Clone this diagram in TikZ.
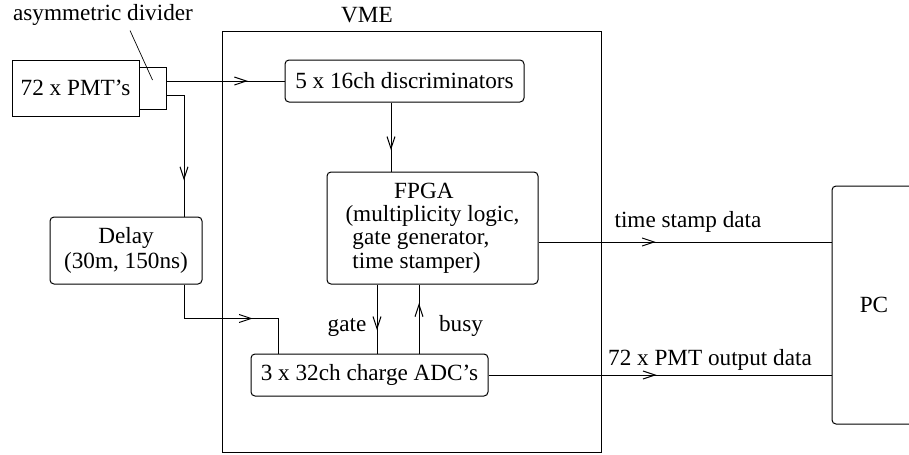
\documentclass[tikz,border=0pt]{standalone}
\usepackage{fontspec}
\setmainfont{Liberation Serif}
\usetikzlibrary{
    arrows.meta,
    calc,
    decorations.markings,
    positioning
}
\newcommand{\pxu}{0.75pt}
\tikzset{
    blk/.style={draw, rounded corners=3pt, inner sep=0pt},
    sqblk/.style={draw, inner sep=0pt},
    midarr/.style={postaction={decorate}, decoration={markings,
        mark=at position #1 with {\arrow{Straight Barb[length=9pt, width=6pt, line width=0.75pt]}}}}
}

\begin{document}
\begin{tikzpicture}[x=0.75pt, y=-0.75pt, line width=0.75pt, font=\fontsize{17.4}{21}\selectfont]
    \clip (0,0) rectangle (909,454);
    \node[sqblk, minimum width=127*\pxu, minimum height=56*\pxu] (pmt) at (75.5,88) {72 x PMT's};
    \node[sqblk, minimum width=27*\pxu, minimum height=42*\pxu] (div) at (152.5,88) {};
    \node (divlbl) at (103,15) {asymmetric divider};
    \node (vmelbl) at (367,15) {VME};
    \node[sqblk, minimum width=379*\pxu, minimum height=421*\pxu] (vme) at (411.5,241.5) {};
    \node[blk, minimum width=239*\pxu, minimum height=42*\pxu] (disc) at (404.5,81) {5 x 16ch discriminators};
    \node[blk, minimum width=211*\pxu, minimum height=112*\pxu, align=left,
          font=\fontsize{17.4}{17.5}\selectfont] (fpga) at (432.5,228)
          {\hspace*{2.1em}FPGA\\(multiplicity logic,\\\hspace*{0.3em}gate generator,\\\hspace*{0.3em}time stamper)};
    \node[blk, minimum width=152*\pxu, minimum height=67*\pxu, align=center,
          font=\fontsize{17.4}{19}\selectfont] (delay) at (126,250.5) {Delay\\(30m, 150ns)};
    \node[blk, minimum width=237*\pxu, minimum height=42*\pxu] (adc) at (369.5,375) {3 x 32ch charge ADC's};
    \node[blk, minimum width=84*\pxu, minimum height=238*\pxu] (pc) at (874,305) {PC};
    \node (gatelbl) at (347,327) {gate};
    \node (busylbl) at (461,326) {busy};
    \node (tslbl) at (688,222) {time stamp data};
    \node (outlbl) at (710,360) {72 x PMT output data};

    \coordinate (dtop) at ($(delay.north)+(58,0)$);
    \coordinate (dbot) at ($(delay.south)+(58,0)$);
    \coordinate (atop) at ($(adc.north)+(-91.5,0)$);
    \coordinate (discout) at ($(disc.south)+(-13.5,0)$);
    \coordinate (gtop) at ($(fpga.south)+(-55.5,0)$);
    \coordinate (btop) at ($(fpga.south)+(-13.5,0)$);
    \coordinate (tsout) at ($(fpga.east)+(0,14)$);

    \draw[line width=0.5pt] ($(divlbl.south)+(27,0)$) -- ($(div.center)+(0,-8)$);
    \draw[midarr=0.69] (div.east |- disc.west) -- (disc.west);
    \draw[midarr=0.74] ($(div.east)+(0,7)$) -| (dtop);
    \draw[midarr=0.69] (discout) -- (discout |- fpga.north);
    \draw[midarr=0.63] (dbot) |- ($(atop)+(0,-35)$) -- (atop);
    \draw[midarr=0.66] (gtop) -- (gtop |- adc.north);
    \draw[midarr=0.73] (btop |- adc.north) -- (btop);
    \draw[midarr=0.40] (tsout) -- (tsout -| pc.west);
    \draw[midarr=0.49] (adc.east) -- (adc.east -| pc.west);
\end{tikzpicture}
\end{document}
